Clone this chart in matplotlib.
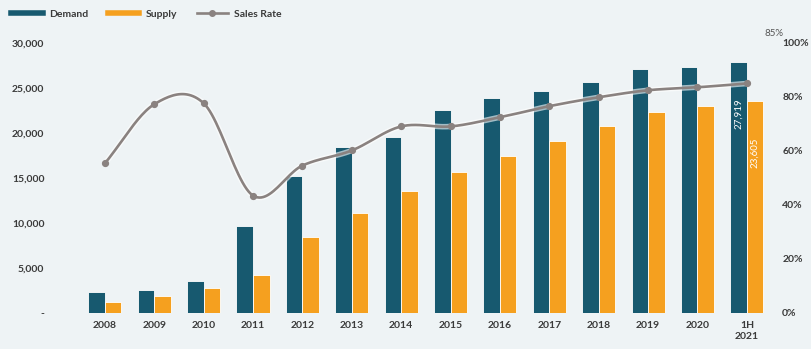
import numpy as np
import matplotlib
matplotlib.use("Agg")
import matplotlib.pyplot as plt
from matplotlib.lines import Line2D

plt.rcParams['font.family'] = ['Lato', 'DejaVu Sans']

years = ["2008", "2009", "2010", "2011", "2012", "2013", "2014",
         "2015", "2016", "2017", "2018", "2019", "2020", "1H\n2021"]
demand = [2320, 2540, 3540, 9620, 15270, 18470, 19580,
          22570, 23900, 24670, 25660, 27100, 27320, 27919]
supply = [1220, 1880, 2765, 4200, 8400, 11060, 13600,
          15700, 17480, 19140, 20800, 22340, 23010, 23605]
sales_rate = [55.4, 77.3, 77.7, 43.5, 54.6, 60.2, 69.1,
              69.1, 72.5, 76.6, 79.9, 82.5, 83.6, 85.0]

c_demand = "#17596f"
c_supply = "#f5a01f"
c_rate = "#8a8280"
c_text = "#3a3a3a"
bg = "#eef3f5"


def catmull_rom(y, n=24):
    # smooth curve through the points, like the spreadsheet "smoothed line"
    y = np.asarray(y, dtype=float)
    p = np.concatenate([[2 * y[0] - y[1]], y, [2 * y[-1] - y[-2]]])
    xs, ys = [], []
    for i in range(len(y) - 1):
        p0, p1, p2, p3 = p[i], p[i + 1], p[i + 2], p[i + 3]
        t = np.linspace(0, 1, n, endpoint=(i == len(y) - 2))
        m1 = (p2 - p0) / 2
        m2 = (p3 - p1) / 2
        h00 = 2 * t**3 - 3 * t**2 + 1
        h10 = t**3 - 2 * t**2 + t
        h01 = -2 * t**3 + 3 * t**2
        h11 = t**3 - t**2
        ys.append(h00 * p1 + h10 * m1 + h01 * p2 + h11 * m2)
        xs.append(i + t)
    return np.concatenate(xs), np.concatenate(ys)


W, H = 812, 349
fig = plt.figure(figsize=(W / 100, H / 100), dpi=100, facecolor=bg)
ax = fig.add_axes([50 / W, (H - 313) / H, (778 - 50) / W, (313 - 43) / H])
ax.set_facecolor("none")

x = np.arange(len(years))
bw = 0.335
ax.bar(x - bw / 2, demand, bw, color=c_demand, edgecolor="white", linewidth=0.6, zorder=2)
ax.bar(x + bw / 2, supply, bw, color=c_supply, edgecolor="white", linewidth=0.6, zorder=2)

ax.set_xlim(-1.11, 13.63)
ax.set_ylim(0, 30000)
ax.set_yticks(np.arange(0, 30001, 5000))
ax.set_yticklabels(["-"] + [f"{v:,}" for v in range(5000, 30001, 5000)])
ax.set_xticks(x)
ax.set_xticklabels(years, linespacing=1.25)
ax.tick_params(axis="both", length=0, labelsize=7.5, labelcolor=c_text)
ax.tick_params(axis="y", pad=4)
ax.tick_params(axis="x", pad=6)
for lab in ax.get_xticklabels() + ax.get_yticklabels():
    lab.set_fontweight("bold")
for s in ax.spines.values():
    s.set_visible(False)

# value labels on the last period
ax.annotate(f"{demand[-1]:,}", (x[-1] - bw / 2, demand[-1]), xytext=(0, -37),
            textcoords="offset pixels", rotation=90, ha="center", va="top",
            color="white", fontsize=7, zorder=5)
ax.annotate(f"{supply[-1]:,}", (x[-1] + bw / 2, supply[-1]), xytext=(0, -37),
            textcoords="offset pixels", rotation=90, ha="center", va="top",
            color="white", fontsize=7, zorder=5)

ax2 = ax.twinx()
ax2.set_ylim(0, 100)
ax2.set_yticks(np.arange(0, 101, 20))
ax2.set_yticklabels([f"{v}%" for v in range(0, 101, 20)])
ax2.tick_params(axis="y", length=0, labelsize=7.5, labelcolor=c_text, pad=3)
for lab in ax2.get_yticklabels():
    lab.set_fontweight("bold")
for s in ax2.spines.values():
    s.set_visible(False)

sx, sy = catmull_rom(sales_rate)
ax2.plot(sx, sy, color="white", lw=4, alpha=0.6, zorder=3, solid_capstyle="round")
ax2.plot(sx, sy, color=c_rate, lw=1.9, zorder=4, solid_capstyle="round")
ax2.plot(x, sales_rate, "o", color=c_rate, ms=4.2, zorder=4)
ax2.annotate(f"{sales_rate[-1]:.0f}%", (x[-1], sales_rate[-1]), xytext=(18, 50),
             textcoords="offset pixels", ha="left", va="center",
             color="#555555", fontsize=7)

handles = [
    Line2D([], [], color=c_demand, lw=4),
    Line2D([], [], color=c_supply, lw=4),
    Line2D([], [], color=c_rate, lw=1.9, marker="o", ms=4),
]
leg = fig.legend(handles, ["Demand", "Supply", "Sales Rate"], loc="center left",
                 bbox_to_anchor=(2 / W, 1 - 14 / H), ncol=3, frameon=False,
                 handlelength=3.0, handletextpad=0.6, columnspacing=1.9,
                 prop={"size": 7.5, "weight": "bold"})
for t in leg.get_texts():
    t.set_color(c_text)

fig.savefig("out.png", dpi=100, facecolor=bg)
